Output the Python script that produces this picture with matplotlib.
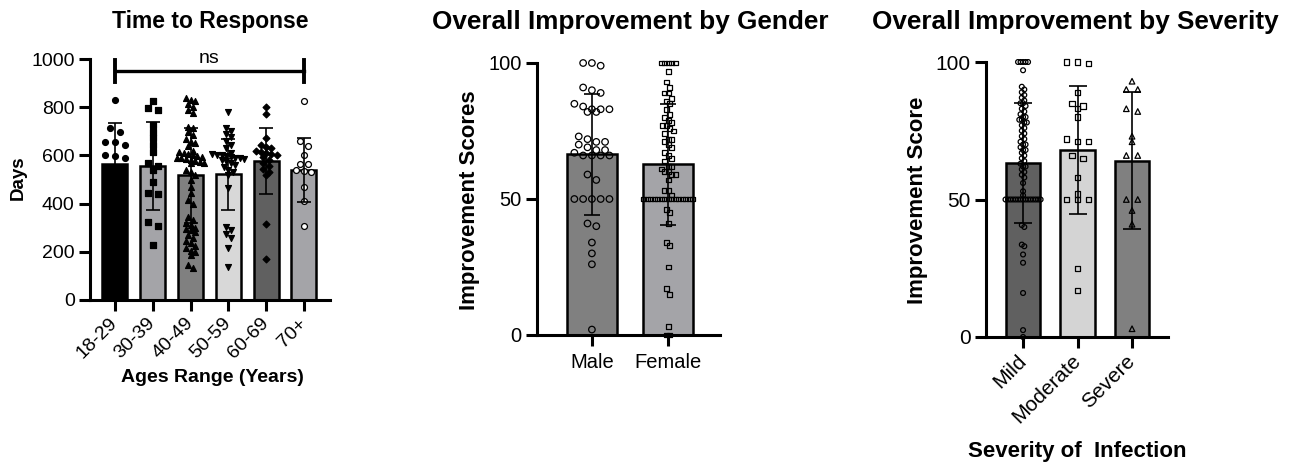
import matplotlib
matplotlib.use('Agg')
import matplotlib.pyplot as plt
import numpy as np

plt.rcParams['font.family'] = ['Liberation Sans', 'DejaVu Sans']

# ---------------- data ----------------
ages = ['18-29', '30-39', '40-49', '50-59', '60-69', '70+']
mean_days = [565, 555, 517, 522, 577, 540]
sd_days = [168, 183, 197, 148, 136, 132]

days_18_29 = [830, 715, 698, 657, 654, 643, 600, 598, 590, 420, 380, 330, 300]
days_30_39 = [826, 798, 788, 726, 698, 671, 643, 615, 568, 555, 539, 491, 443,
              438, 325, 307, 228]
days_40_49 = [838, 830, 826, 815, 800, 790, 775, 719, 712, 698, 685, 670, 657,
              650, 640, 620, 615, 610, 605, 600, 598, 595, 590, 588, 585, 580,
              575, 572, 570, 568, 539, 530, 519, 498, 470, 443, 415, 400, 346,
              330, 320, 310, 300, 295, 290, 283, 270, 257, 245, 235, 225, 215,
              205, 199, 185, 145, 133]
days_50_59 = [781, 712, 700, 690, 675, 660, 643, 630, 612, 605, 600, 600, 598,
              595, 590, 588, 585, 580, 575, 570, 560, 550, 539, 530, 520, 465,
              304, 290, 275, 257, 215, 138]
days_60_69 = [802, 771, 672, 643, 636, 630, 620, 615, 610, 605, 600, 595, 580,
              568, 555, 545, 530, 520, 314, 169]
days_70_plus = [826, 660, 640, 600, 565, 565, 540, 535, 530, 470, 410, 307]

genders = ['Male', 'Female']
mean_gender = [66.4, 62.8]
sd_gender = [22.2, 22.2]
male_scores = [100, 100, 99, 91, 90, 89, 85, 84, 83, 83, 83, 82, 82, 73, 72, 71,
               71, 70, 69, 68, 68, 67, 66, 66, 66, 66, 59, 57, 50, 50, 50, 50,
               50, 41, 40, 34, 30, 26, 2]
female_scores = [100, 100, 100, 100, 100, 97, 93, 91, 89, 89, 87, 86, 85, 83,
                 81, 80, 79, 78, 77, 77, 76, 75, 74, 72, 72, 71, 70, 69, 67, 66,
                 65, 64, 62, 62, 61, 60, 60, 59, 59, 57, 53, 53, 51.5, 50, 50,
                 50, 50, 50, 50, 50, 50, 50, 50, 50, 50, 50, 50, 50, 46, 45, 41,
                 34, 33, 25, 17, 15, 3, 0, 0]

severities = ['Mild', 'Moderate', 'Severe']
mean_sev = [63.3, 68.0, 64.1]
sd_sev = [21.8, 23.1, 25.0]
mild_scores = [100, 100, 100, 100, 100, 97, 91, 90, 89, 88, 87, 86, 85, 85, 84,
               83, 82, 81, 80, 80, 79, 79, 78, 78, 77, 76, 75, 74, 73, 72, 71,
               70, 70, 69, 68, 68, 67, 66, 65, 64, 63, 62, 62, 61, 60, 59, 58,
               56, 53, 51.5, 50, 50, 50, 50, 50, 50, 50, 50, 50, 50, 50, 50, 50,
               50, 50, 40.7, 40, 33.6, 33, 30, 27, 16, 2.5, 0]
moderate_scores = [100, 100, 99.4, 89, 85, 84, 83, 80, 72, 71, 71, 66, 65, 58,
                   52, 50, 50, 50, 25, 17]
severe_scores = [93, 90, 90, 83, 82, 73, 71, 66, 66, 50, 50, 46, 41, 3]


def row_offsets(values, ystep, xstep):
    # group close values into rows and spread each row symmetrically
    vals = np.asarray(values, float)
    order = np.argsort(-vals, kind='stable')
    offs = np.zeros(len(vals))
    rows, start = [], None
    for idx in order:
        if start is None or start - vals[idx] >= ystep:
            rows.append([idx])
            start = vals[idx]
        else:
            rows[-1].append(idx)
    for r in rows:
        n = len(r)
        for j, idx in enumerate(r):
            offs[idx] = (j - (n - 1) / 2) * xstep
    return offs


def style(ax, lab_size):
    for s in ['top', 'right']:
        ax.spines[s].set_visible(False)
    for s in ['left', 'bottom']:
        ax.spines[s].set_linewidth(2.2)
    ax.tick_params(width=2.2, length=8, labelsize=lab_size, pad=3)


def panel(ax, groups, means, sds, colors, markers, faces, msizes, ystep,
          xsteps, width, capsize):
    x = np.arange(len(groups))
    ax.bar(x, means, width=width, color=colors, edgecolor='black',
           linewidth=1.8, zorder=1)
    for i, g in enumerate(groups):
        off = row_offsets(g, ystep, xsteps[i])
        ax.scatter(i + off, g, s=msizes[i], marker=markers[i],
                   facecolors=faces[i], edgecolors='black', linewidths=0.9,
                   zorder=3, clip_on=False)
    ax.errorbar(x, means, yerr=sds, fmt='none', ecolor='black', elinewidth=1.2,
                capsize=capsize, capthick=1.2, zorder=4)


W, H = 1298, 467
fig = plt.figure(figsize=(W / 100, H / 100), dpi=100)

def px_axes(l, t, r, b):
    return fig.add_axes([l / W, 1 - b / H, (r - l) / W, (b - t) / H])

# ---------- panel 1 ----------
ax1 = px_axes(90, 59, 330, 300)
groups1 = [days_18_29, days_30_39, days_40_49, days_50_59, days_60_69, days_70_plus]
panel(ax1, groups1, mean_days, sd_days,
      ['#000000', '#a4a4a8', '#808080', '#d8d8d8', '#606060', '#a4a4a8'],
      ['o', 's', '^', 'v', 'D', 'o'],
      ['black', 'black', 'black', 'black', 'black', 'white'],
      [18, 18, 18, 18, 12, 18], 21, [0.27, 0.26, 0.12, 0.12, 0.14, 0.2],
      0.66, 4.7)
ax1.set_xlim(-0.66, 5.69)
ax1.set_ylim(0, 1000)
ax1.set_yticks([0, 200, 400, 600, 800, 1000])
ax1.set_xticks(range(len(ages)))
ax1.set_xticklabels(ages, rotation=45, ha='right', va='center',
                    rotation_mode='anchor')
style(ax1, 14)
ax1.tick_params(axis='x', pad=7)
ax1.plot([0, 5], [951, 951], color='black', lw=2.4, clip_on=False)
ax1.plot([0, 0], [905, 996], color='black', lw=2.8, clip_on=False)
ax1.plot([5, 5], [905, 996], color='black', lw=2.8, clip_on=False)
ax1.text(2.5, 983, 'ns', ha='center', va='baseline', fontsize=14)

fig.text(210 / W, 1 - 28 / H, 'Time to Response', ha='center',
         va='baseline', fontsize=16.5, fontweight='bold')
fig.text(18 / W, 1 - 178 / H, 'Days', rotation=90, ha='center',
         va='center', fontsize=13.5, fontweight='bold')
fig.text(212 / W, 1 - 382 / H, 'Ages Range (Years)', ha='center',
         va='baseline', fontsize=14, fontweight='bold')

# ---------- panel 2 ----------
ax2 = px_axes(537, 63, 720, 335)
panel(ax2, [male_scores, female_scores], mean_gender, sd_gender,
      ['#808080', '#a4a4a8'], ['o', 's'], ['none', 'none'],
      [22, 12], 2.2, [0.115, 0.046], 0.66, 6)
ax2.set_xlim(-0.72, 1.68)
ax2.set_ylim(0, 100)
ax2.set_yticks([0, 50, 100])
ax2.set_xticks(range(len(genders)))
ax2.set_xticklabels(genders)
style(ax2, 14.5)
ax2.tick_params(axis='x', pad=5)

fig.text(630 / W, 1 - 29.5 / H, 'Overall Improvement by Gender', ha='center',
         va='baseline', fontsize=18.8, fontweight='bold')
fig.text(469 / W, 1 - 200 / H, 'Improvement Scores', rotation=90,
         ha='center', va='center', fontsize=16, fontweight='bold')

# ---------- panel 3 ----------
ax3 = px_axes(986, 62, 1168, 337)
panel(ax3, [mild_scores, moderate_scores, severe_scores], mean_sev, sd_sev,
      ['#606060', '#d4d4d4', '#808080'], ['o', 's', '^'],
      ['none', 'none', 'none'], [12, 14, 16], 1.5, [0.046, 0.2, 0.21],
      0.64, 6.5)
ax3.set_xlim(-0.68, 2.66)
ax3.set_ylim(0, 100)
ax3.set_yticks([0, 50, 100])
ax3.set_xticks(range(len(severities)))
ax3.set_xticklabels(severities, rotation=45, ha='right', va='center',
                    rotation_mode='anchor')
style(ax3, 15)
ax3.tick_params(axis='x', pad=7)

fig.text(1075 / W, 1 - 29.5 / H, 'Overall Improvement by Severity',
         ha='center', va='baseline', fontsize=18.8, fontweight='bold')
fig.text(917 / W, 1 - 200 / H, 'Improvement Score', rotation=90,
         ha='center', va='center', fontsize=16, fontweight='bold')
fig.text(1077 / W, 1 - 457 / H, 'Severity of  Infection', ha='center',
         va='baseline', fontsize=16, fontweight='bold')

fig.savefig('out.png', dpi=100)
